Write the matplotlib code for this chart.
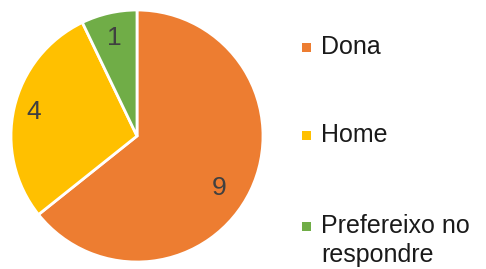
import numpy as np
import matplotlib
matplotlib.use("Agg")
import matplotlib.pyplot as plt
from matplotlib.patches import Rectangle

categories = ["Dona", "Home", "Prefereixo no\nrespondre"]
values = [9, 4, 1]
colors = ["#ED7D31", "#FFC000", "#70AD47"]

W, H = 486, 269
fig = plt.figure(figsize=(W / 100, H / 100), dpi=100)
plt.rcParams['font.family'] = ['Liberation Sans', 'DejaVu Sans']

cx, cy, r = 137, 136, 126
ax = fig.add_axes([(cx - r) / W, (H - cy - r) / H, 2 * r / W, 2 * r / H])
wedges, _ = ax.pie(values, colors=colors, startangle=90, counterclock=False,
                   wedgeprops=dict(edgecolor="white", linewidth=2))
ax.set_xlim(-1, 1)
ax.set_ylim(-1, 1)
ax.set_aspect("equal")
ax.axis("off")

# data label placement (radius fraction, angle shift in degrees)
label_r = [0.77, 0.84, 0.80]
label_shift = [-7, 0, 0]
for w, v, lr, sh in zip(wedges, values, label_r, label_shift):
    ang = np.deg2rad((w.theta1 + w.theta2) / 2 + sh)
    ax.text(lr * np.cos(ang), lr * np.sin(ang), str(v), ha="center", va="center",
            fontsize=19, color="#404040")

# legend drawn manually
base_y = [54, 142, 233]
line_gap = 29
for cat, col, by in zip(categories, colors, base_y):
    fig.add_artist(Rectangle((302 / W, (H - by + 2) / H), 9 / W, 9 / H,
                             transform=fig.transFigure, facecolor=col, edgecolor="none"))
    for i, line in enumerate(cat.split("\n")):
        fig.text(321 / W, (H - by - i * line_gap) / H, line, ha="left", va="baseline",
                 fontsize=18, color="#1a1a1a")

fig.savefig("out.png", dpi=100)
